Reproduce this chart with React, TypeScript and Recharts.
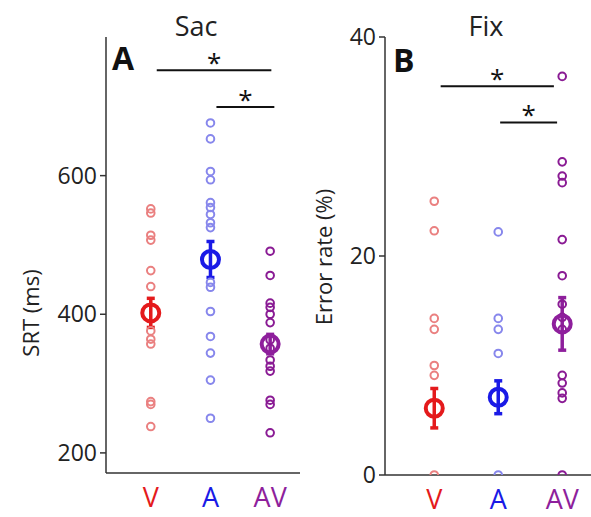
import {
  ScatterChart,
  Scatter,
  XAxis,
  YAxis,
  ErrorBar,
  ReferenceLine,
} from 'recharts';

// 分组与颜色
const groups = ['V', 'A', 'AV'];
const groupColors = ['#e41a1c', '#1a1ae6', '#8e1f9c'];
const pointColors = ['#ea8080', '#8787ec', '#8a1b94'];

// A: 扫视反应时 (ms)
const sacV = [552, 546, 514, 507, 463, 440, 376, 364, 357, 274, 270, 238];
const sacA = [676, 653, 606, 594, 561, 554, 544, 532, 525, 446, 439, 404, 368, 344, 305, 250];
const sacAV = [491, 456, 416, 410, 400, 388, 363, 351, 334, 325, 318, 276, 270, 229];
const sacMean = [402, 479, 357];
const sacErr = [21, 26, 14];

// B: 错误率 (%)
const fixV = [25.0, 22.3, 14.3, 13.3, 10.0, 9.1, 0];
const fixA = [22.2, 14.3, 13.3, 11.1, 0];
const fixAV = [36.4, 28.6, 27.3, 26.7, 21.5, 18.2, 15.6, 14.4, 13.3, 9.1, 8.4, 7.5, 7.0, 0];
const fixMean = [6.1, 7.1, 13.8];
const fixErr = [1.8, 1.5, 2.4];

const toPoints = (vals: number[], x: number) => vals.map((y) => ({ x, y }));

const font = '"Open Sans", "Noto Sans", sans-serif';

const Ring = (color: string) => (props: any) => (
  <circle cx={props.cx} cy={props.cy} r={3.8} fill="none" stroke={color} strokeWidth={2} />
);

const MeanRing = (color: string) => (props: any) => (
  <circle cx={props.cx} cy={props.cy} r={8.5} fill="none" stroke={color} strokeWidth={4} />
);

const GroupTick = (props: any) => {
  const i = props.payload.value - 1;
  return (
    <text
      x={props.x}
      y={props.y + 26}
      textAnchor="middle"
      fontSize={27}
      fontFamily={font}
      fill={groupColors[i]}
    >
      {groups[i]}
    </text>
  );
};

const starLabel = { value: '*', position: 'top' as const, fontSize: 26, fill: '#111', offset: -2 };

function Panel({
  width,
  margin,
  xDomain,
  yDomain,
  yTicks,
  yWidth,
  series,
  means,
  errs,
  bars,
}: {
  width: number;
  margin: any;
  xDomain: number[];
  yDomain: number[];
  yTicks: number[];
  yWidth: number;
  series: number[][];
  means: number[];
  errs: number[];
  bars: { x1: number; x2: number; y: number }[];
}) {
  return (
    <ScatterChart width={width} height={517} margin={margin}>
      <XAxis
        type="number"
        dataKey="x"
        domain={xDomain}
        ticks={[1, 2, 3]}
        tickLine={false}
        axisLine={{ stroke: '#333', strokeWidth: 1.5 }}
        tick={<GroupTick />}
        height={30}
        allowDataOverflow
      />
      <YAxis
        type="number"
        dataKey="y"
        domain={yDomain}
        ticks={yTicks}
        width={yWidth}
        tickSize={6}
        tickMargin={3}
        axisLine={{ stroke: '#333', strokeWidth: 1.5 }}
        tickLine={{ stroke: '#333', strokeWidth: 1.5 }}
        tick={{ fontSize: 23, fill: '#222', fontFamily: font }}
        allowDataOverflow
      />
      {series.map((vals, i) => (
        <Scatter
          key={groups[i]}
          data={toPoints(vals, i + 1)}
          shape={Ring(pointColors[i])}
          isAnimationActive={false}
        />
      ))}
      {means.map((m, i) => (
        <Scatter
          key={'m' + groups[i]}
          data={[{ x: i + 1, y: m, err: errs[i] }]}
          shape={MeanRing(groupColors[i])}
          isAnimationActive={false}
        >
          <ErrorBar
            dataKey="err"
            direction="y"
            width={4}
            stroke={groupColors[i]}
            strokeWidth={3.5}
            isAnimationActive={false}
          />
        </Scatter>
      ))}
      {bars.map((b, i) => (
        <ReferenceLine
          key={'s' + i}
          segment={[
            { x: b.x1, y: b.y },
            { x: b.x2, y: b.y },
          ]}
          stroke="#111"
          strokeWidth={2}
          label={starLabel}
        />
      ))}
    </ScatterChart>
  );
}

const textStyle: React.CSSProperties = {
  position: 'absolute',
  fontFamily: font,
  color: '#222',
  whiteSpace: 'nowrap',
  lineHeight: 1,
};

export default function App() {
  return (
    <div style={{ position: 'relative', width: 591, height: 517, background: '#fff', fontFamily: font }}>
      <style>{'body{margin:0}'}</style>
      <div style={{ position: 'absolute', left: 0, top: 0 }}>
        <Panel
          width={305}
          margin={{ top: 37, right: 5, bottom: 14, left: 46 }}
          xDomain={[0.25, 3.5]}
          yDomain={[171, 800]}
          yTicks={[200, 400, 600]}
          yWidth={60}
          series={[sacV, sacA, sacAV]}
          means={sacMean}
          errs={sacErr}
          bars={[
            { x1: 1.1, x2: 3.02, y: 752 },
            { x1: 2.1, x2: 3.07, y: 699 },
          ]}
        />
      </div>
      <div style={{ position: 'absolute', left: 305, top: 0 }}>
        <Panel
          width={286}
          margin={{ top: 37, right: 0, bottom: 12, left: 30 }}
          xDomain={[0.23, 3.45]}
          yDomain={[0, 40]}
          yTicks={[0, 20, 40]}
          yWidth={50}
          series={[fixV, fixA, fixAV]}
          means={fixMean}
          errs={fixErr}
          bars={[
            { x1: 1.1, x2: 2.87, y: 35.5 },
            { x1: 2.03, x2: 2.92, y: 32.2 },
          ]}
        />
      </div>
      <div style={{ ...textStyle, left: 196, top: 12, fontSize: 27, transform: 'translateX(-50%)' }}>Sac</div>
      <div style={{ ...textStyle, left: 486, top: 12, fontSize: 27, transform: 'translateX(-50%)' }}>Fix</div>
      <div style={{ ...textStyle, left: 112, top: 42, fontSize: 32, fontWeight: 700, color: '#111' }}>A</div>
      <div style={{ ...textStyle, left: 393, top: 44, fontSize: 32, fontWeight: 700, color: '#111' }}>B</div>
      <div
        style={{
          ...textStyle,
          left: 30,
          top: 313,
          fontSize: 22,
          transform: 'translate(-50%, -50%) rotate(-90deg)',
        }}
      >
        SRT (ms)
      </div>
      <div
        style={{
          ...textStyle,
          left: 323,
          top: 257,
          fontSize: 22,
          transform: 'translate(-50%, -50%) rotate(-90deg)',
        }}
      >
        Error rate (%)
      </div>
    </div>
  );
}
